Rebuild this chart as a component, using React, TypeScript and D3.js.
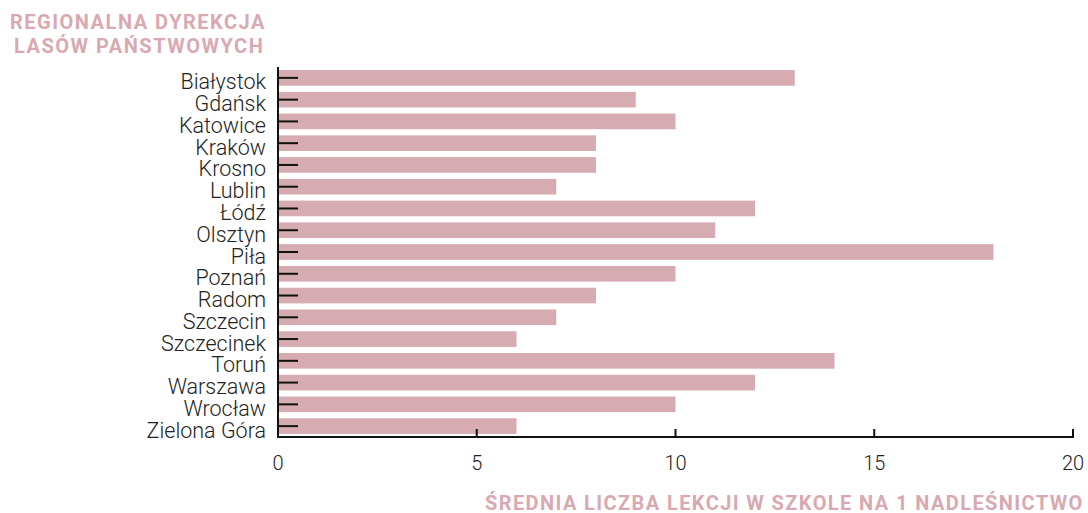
import React from "react";
import * as d3 from "d3";

const categories = ["Białystok","Gdańsk","Katowice","Kraków","Krosno","Lublin","Łódź","Olsztyn","Piła","Poznań","Radom","Szczecin","Szczecinek","Toruń","Warszawa","Wrocław","Zielona Góra"];
const values = [13,9,10,8,8,7,12,11,18,10,8,7,6,14,12,10,6];
const xTicks = [0,5,10,15,20];

const W = 1088, H = 513;
const left = 278, right = 1073, top = 67, bottom = 437;
const barColor = "#d6abb2";
const titleColor = "#d9a9b1";

export default function App() {
  const x = d3.scaleLinear().domain([0, 20]).range([left, right]);
  const y = d3.scaleBand<string>().domain(categories).range([top, bottom]).paddingInner(0.28).paddingOuter(0.14);
  const font = "Roboto, sans-serif";
  return (
    <svg width={W} height={H} style={{ position: "absolute", left: 0, top: 0, background: "#fff" }}>
      <g fontFamily={font}>
        <text x={10} y={28.5} textAnchor="start" fontSize={20} fontWeight={700} letterSpacing={1.5} fill={titleColor}>REGIONALNA DYREKCJA</text>
        <text x={14} y={53} textAnchor="start" fontSize={20} fontWeight={700} letterSpacing={1.5} fill={titleColor}>LASÓW PAŃSTWOWYCH</text>
        {categories.map((c, i) => (
          <rect key={c} x={x(0)} y={y(c)!} width={x(values[i]) - x(0)} height={y.bandwidth()} fill={barColor} />
        ))}
        {categories.map((c) => {
          const cy = y(c)! + y.bandwidth() / 2;
          return (
            <g key={"t" + c}>
              <line x1={left} x2={left + 20} y1={cy} y2={cy} stroke="#111" strokeWidth={2} />
              <text x={266} y={cy + 4} dy="0.35em" textAnchor="end" fontSize={21.5} fontWeight={300} fill="#222">{c}</text>
            </g>
          );
        })}
        <line x1={left} x2={left} y1={top} y2={bottom + 1} stroke="#111" strokeWidth={2} />
        <line x1={left - 1} x2={right + 1} y1={bottom} y2={bottom} stroke="#111" strokeWidth={2} />
        {xTicks.map((t) => (
          <g key={"x" + t}>
            <line x1={x(t)} x2={x(t)} y1={bottom} y2={bottom - 8} stroke="#111" strokeWidth={2} />
            <text x={x(t)} y={463} dy="0.35em" textAnchor="middle" fontSize={20} fontWeight={300} fill="#222">{t}</text>
          </g>
        ))}
        <text x={485} y={510} textAnchor="start" fontSize={20} fontWeight={700} letterSpacing={1.4} fill={titleColor}>ŚREDNIA LICZBA LEKCJI W SZKOLE NA 1 NADLEŚNICTWO</text>
      </g>
    </svg>
  );
}
